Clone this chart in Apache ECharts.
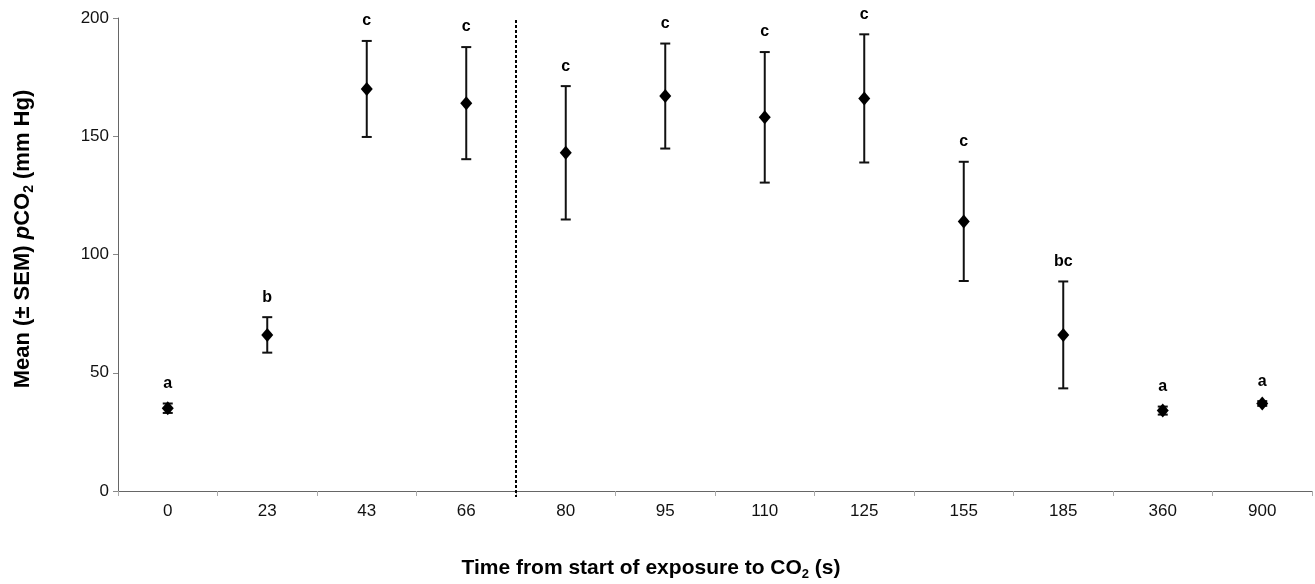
<!DOCTYPE html>
<html>
<head>
<meta charset="utf-8">
<script src="https://cdn.jsdelivr.net/npm/echarts@6/dist/echarts.min.js"></script>
<style>
html,body{margin:0;padding:0;background:#fff;}
#chart{width:1315px;height:584px;}
</style>
</head>
<body>
<div id="chart"></div>
<script>
var categories = ['0','23','43','66','80','95','110','125','155','185','360','900'];
var means = [35, 66, 170, 164, 143, 167, 158, 166, 114, 66, 34, 37];
var sems = [2, 7.5, 20.3, 23.7, 28.2, 22.2, 27.6, 27.1, 25.2, 22.6, 1.7, 1];
var letters = ['a','b','c','c','c','c','c','c','c','bc','a','a'];
var yTicks = [0, 50, 100, 150, 200];
var dividerAfterIndex = 3;

var FONT = '"Liberation Sans", Arial, sans-serif';
var errData = categories.map(function (c, i) { return [i, means[i], sems[i], letters[i]]; });

var chart = echarts.init(document.getElementById('chart'));
chart.setOption({
  animation: false,
  backgroundColor: '#fff',
  grid: { left: 118, right: 3, top: 18, bottom: 93, containLabel: false },
  xAxis: {
    type: 'category',
    data: categories,
    boundaryGap: true,
    axisLine: { lineStyle: { color: '#666', width: 1 } },
    axisTick: { show: true, length: 5, lineStyle: { color: '#aaa' } },
    axisLabel: { color: '#111', fontSize: 17, fontFamily: FONT, margin: 12 },
    splitLine: { show: false }
  },
  yAxis: {
    type: 'value',
    min: yTicks[0],
    max: yTicks[yTicks.length - 1],
    interval: yTicks[1] - yTicks[0],
    axisLine: { show: true, lineStyle: { color: '#666', width: 1 } },
    axisTick: { show: true, length: 5, lineStyle: { color: '#888' } },
    axisLabel: { color: '#111', fontSize: 17, fontFamily: FONT, margin: 9 },
    splitLine: { show: false }
  },
  graphic: [
    {
      type: 'text',
      x: 23, y: 239,
      rotation: Math.PI / 2,
      style: {
        text: '{b|Mean (± SEM) }{i|p}{b|CO}{s|2}{b| (mm Hg)}',
        align: 'center', verticalAlign: 'middle',
        rich: {
          b: { font: 'bold 22px ' + FONT, fill: '#000' },
          i: { font: 'italic bold 22px ' + FONT, fill: '#000' },
          s: { font: 'bold 14px ' + FONT, fill: '#000', padding: [12, 0, 0, 0] }
        }
      }
    },
    {
      type: 'text',
      x: 651, y: 568,
      style: {
        text: '{b|Time from start of exposure to CO}{s|2}{b| (s)}',
        align: 'center', verticalAlign: 'middle',
        rich: {
          b: { font: 'bold 21px ' + FONT, fill: '#000' },
          s: { font: 'bold 13px ' + FONT, fill: '#000', padding: [12, 0, 0, 0] }
        }
      }
    }
  ],
  series: [
    {
      type: 'custom',
      data: errData,
      z: 2,
      renderItem: function (params, api) {
        var idx = api.value(0);
        var m = api.value(1);
        var s = api.value(2);
        var letter = errData[params.dataIndex][3];
        var top = api.coord([idx, m + s]);
        var bot = api.coord([idx, m - s]);
        var cap = 5;
        var col = '#111';
        var children = [
          { type: 'line', shape: { x1: top[0], y1: top[1], x2: bot[0], y2: bot[1] }, style: { stroke: col, lineWidth: 2 } },
          { type: 'line', shape: { x1: top[0] - cap, y1: top[1], x2: top[0] + cap, y2: top[1] }, style: { stroke: col, lineWidth: 2 } },
          { type: 'line', shape: { x1: bot[0] - cap, y1: bot[1], x2: bot[0] + cap, y2: bot[1] }, style: { stroke: col, lineWidth: 2 } },
          { type: 'text', x: top[0], y: top[1] - 20, style: { text: letter, font: 'bold 16px ' + FONT, fill: '#000', align: 'center', verticalAlign: 'middle' } }
        ];
        if (idx === dividerAfterIndex) {
          var band = api.size([1, 0])[0];
          var xd = top[0] + band / 2;
          var y0 = api.coord([idx, 0])[1];
          var y1 = api.coord([idx, 200])[1];
          children.push({ type: 'line', shape: { x1: xd, y1: y1 + 2, x2: xd, y2: y0 + 6 }, style: { stroke: '#000', lineWidth: 2, lineDash: [3, 2] } });
        }
        return { type: 'group', children: children };
      }
    },
    {
      type: 'scatter',
      data: means,
      symbol: 'diamond',
      symbolSize: [12, 14],
      itemStyle: { color: '#000', opacity: 1 },
      z: 3
    }
  ]
});
</script>
</body>
</html>
